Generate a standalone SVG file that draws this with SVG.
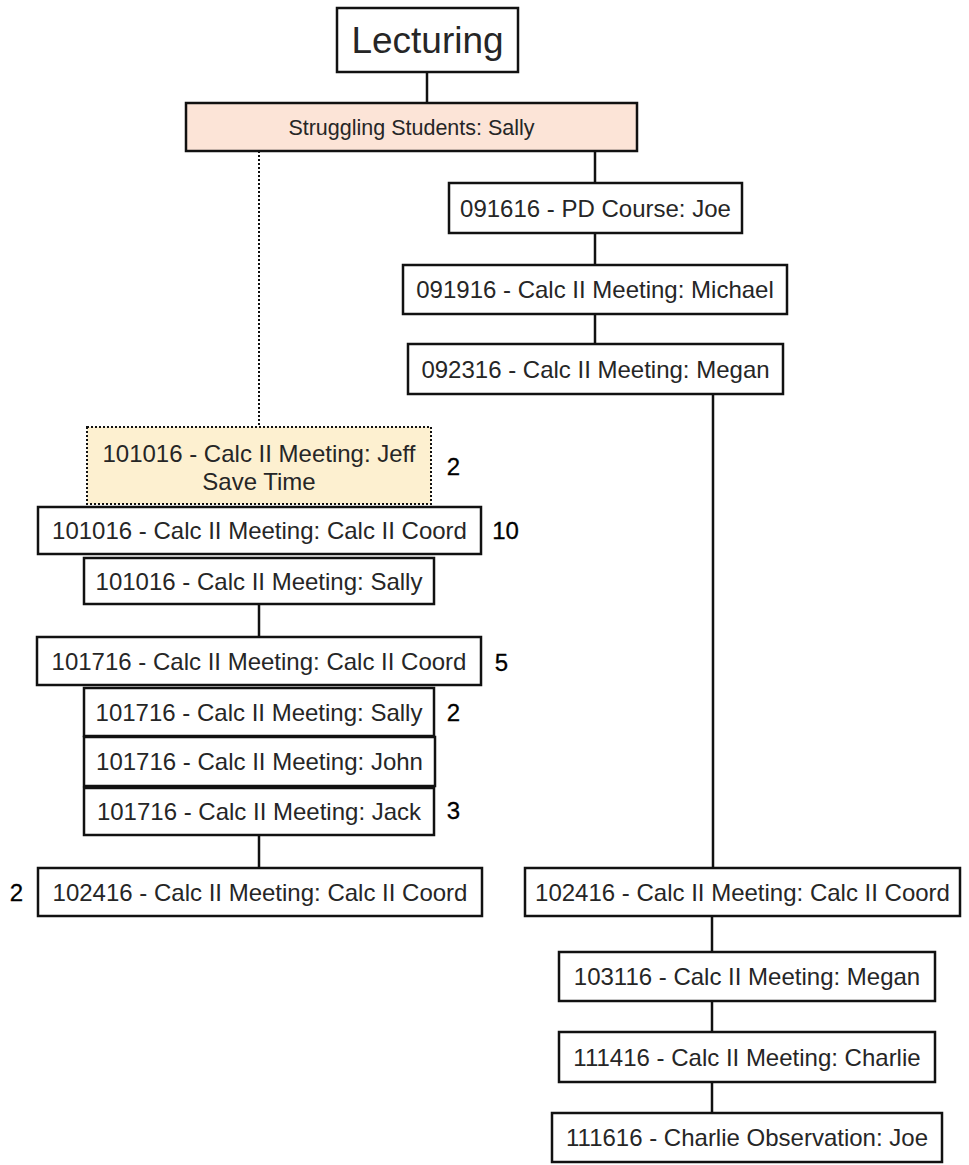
<svg xmlns="http://www.w3.org/2000/svg" width="969" height="1165" viewBox="0 0 969 1165">
  <style>
    .box { fill: #ffffff; stroke: #111111; stroke-width: 2.5; }
    .peach { fill: #fce4d7; }
    .note { fill: #fdf0d0; stroke-dasharray: 2 2; stroke-width: 2; }
    .lbl { font-family: "Liberation Sans", Arial, sans-serif; font-size: 24px; fill: #262626; text-anchor: middle; }
    .title { font-size: 37px; }
    .sub { font-size: 21.5px; }
    .num { font-family: "Liberation Sans", Arial, sans-serif; font-size: 24px; fill: #000000; stroke: #000000; stroke-width: 0.3; text-anchor: middle; }
    .edge { stroke: #111111; stroke-width: 2.5; fill: none; }
    .dotted { stroke-dasharray: 2 2; stroke-width: 2; }
  </style>
  <rect width="969" height="1165" fill="#ffffff"/>

  <!-- connectors -->
  <g id="connectors">
    <line class="edge" x1="427" y1="72" x2="427" y2="103"/>
    <line class="edge dotted" x1="259" y1="151" x2="259" y2="427"/>
    <line class="edge" x1="595" y1="151" x2="595" y2="183"/>
    <line class="edge" x1="595" y1="233" x2="595" y2="265"/>
    <line class="edge" x1="595" y1="314" x2="595" y2="344"/>
    <line class="edge" x1="713" y1="394" x2="713" y2="868"/>
    <line class="edge" x1="712" y1="916" x2="712" y2="952"/>
    <line class="edge" x1="712" y1="1001" x2="712" y2="1032"/>
    <line class="edge" x1="712" y1="1082" x2="712" y2="1113"/>
    <line class="edge" x1="259" y1="604" x2="259" y2="637"/>
    <line class="edge" x1="259" y1="835" x2="259" y2="868"/>
  </g>

  <g id="lecturing">
    <rect class="box" x="337" y="8" width="181" height="64"/>
    <text class="lbl title" x="427.5" y="53">Lecturing</text>
  </g>

  <g id="struggling-students">
    <rect class="box peach" x="186" y="103" width="451" height="48"/>
    <text class="lbl sub" x="411.5" y="134.5">Struggling Students: Sally</text>
  </g>

  <g id="pd-course-joe">
    <rect class="box" x="449" y="183" width="293" height="50"/>
    <text class="lbl" x="595.5" y="216.5">091616 - PD Course: Joe</text>
  </g>

  <g id="meeting-michael">
    <rect class="box" x="403" y="265" width="384" height="49"/>
    <text class="lbl" x="595" y="298">091916 - Calc II Meeting: Michael</text>
  </g>

  <g id="meeting-megan-0923">
    <rect class="box" x="408" y="344" width="375" height="50"/>
    <text class="lbl" x="595.5" y="377.5">092316 - Calc II Meeting: Megan</text>
  </g>

  <g id="meeting-jeff">
    <rect class="box note" x="87" y="427" width="344" height="77"/>
    <text class="lbl" x="259" y="462">101016 - Calc II Meeting: Jeff</text>
    <text class="lbl" x="259" y="490">Save Time</text>
    <text class="num" x="453.5" y="475">2</text>
  </g>

  <g id="coord-1010">
    <rect class="box" x="38" y="507" width="443" height="47"/>
    <text class="lbl" x="259.5" y="539">101016 - Calc II Meeting: Calc II Coord</text>
    <text class="num" x="505.5" y="539">10</text>
  </g>

  <g id="sally-1010">
    <rect class="box" x="84" y="558" width="350" height="46"/>
    <text class="lbl" x="259" y="589.5">101016 - Calc II Meeting: Sally</text>
  </g>

  <g id="coord-1017">
    <rect class="box" x="37" y="637" width="444" height="48"/>
    <text class="lbl" x="259" y="669.5">101716 - Calc II Meeting: Calc II Coord</text>
    <text class="num" x="501.5" y="671">5</text>
  </g>

  <g id="sally-1017">
    <rect class="box" x="84" y="688" width="350" height="48"/>
    <text class="lbl" x="259" y="720.5">101716 - Calc II Meeting: Sally</text>
    <text class="num" x="453.5" y="721">2</text>
  </g>

  <g id="john-1017">
    <rect class="box" x="84" y="737" width="351" height="49"/>
    <text class="lbl" x="259.5" y="770">101716 - Calc II Meeting: John</text>
  </g>

  <g id="jack-1017">
    <rect class="box" x="84" y="788" width="350" height="47"/>
    <text class="lbl" x="259" y="820">101716 - Calc II Meeting: Jack</text>
    <text class="num" x="453.5" y="819">3</text>
  </g>

  <g id="coord-1024-left">
    <rect class="box" x="38" y="868" width="444" height="48"/>
    <text class="lbl" x="260" y="900.5">102416 - Calc II Meeting: Calc II Coord</text>
    <text class="num" x="16.5" y="900.5">2</text>
  </g>

  <g id="coord-1024-right">
    <rect class="box" x="525" y="868" width="435" height="48"/>
    <text class="lbl" x="742.5" y="900.5">102416 - Calc II Meeting: Calc II Coord</text>
  </g>

  <g id="meeting-megan-1031">
    <rect class="box" x="559" y="952" width="376" height="49"/>
    <text class="lbl" x="747" y="985">103116 - Calc II Meeting: Megan</text>
  </g>

  <g id="meeting-charlie">
    <rect class="box" x="559" y="1032" width="376" height="50"/>
    <text class="lbl" x="747" y="1065.5">111416 - Calc II Meeting: Charlie</text>
  </g>

  <g id="charlie-observation">
    <rect class="box" x="552" y="1113" width="390" height="49"/>
    <text class="lbl" x="747" y="1146">111616 - Charlie Observation: Joe</text>
  </g>
</svg>
